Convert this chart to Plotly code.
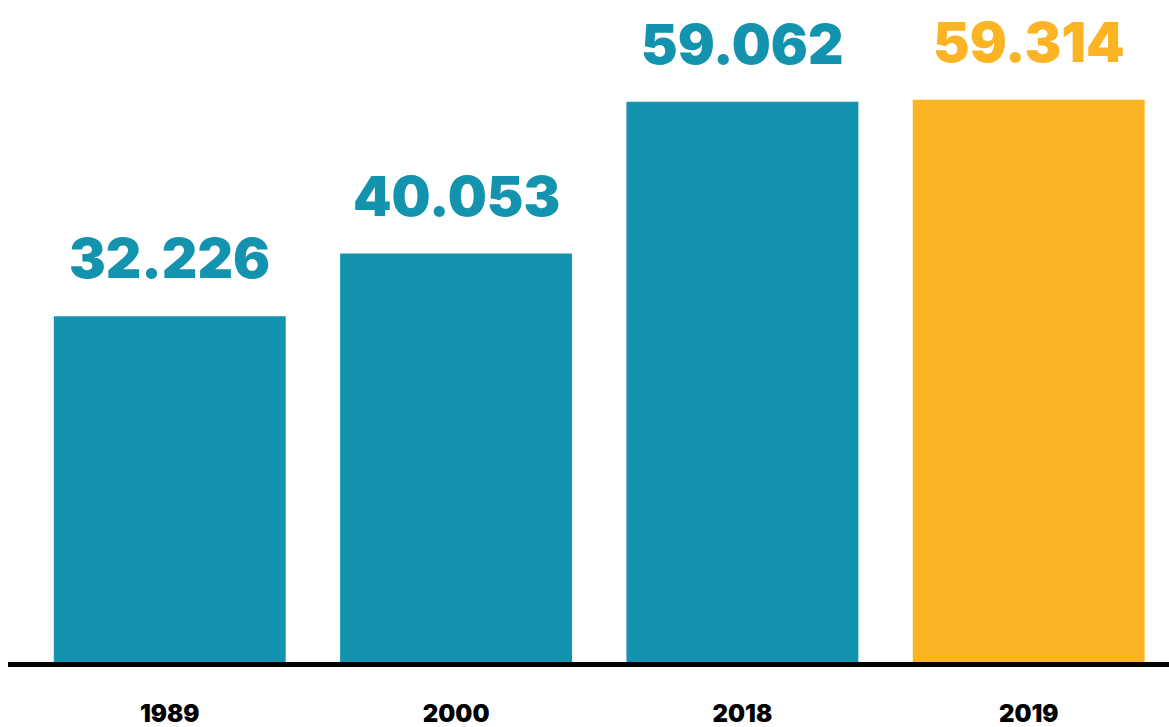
import plotly.graph_objects as go

years = ["1989", "2000", "2018", "2019"]
values = [32.226, 40.053, 59.062, 59.314]
labels = ["32.226", "40.053", "59.062", "59.314"]
colors = ["#1393AD", "#1393AD", "#1393AD", "#FCB424"]

BAR_BASE = -11.06
FONT = "Inter"

fig = go.Figure()
fig.add_trace(go.Bar(
    x=years,
    y=[v - BAR_BASE for v in values],
    base=BAR_BASE,
    marker=dict(color=colors, line=dict(width=0)),
    width=0.81,
    hoverinfo="skip",
))

for i, (v, lab, c) in enumerate(zip(values, labels, colors)):
    fig.add_annotation(
        x=i, y=v, xref="x", yref="y", text=lab, showarrow=False,
        xanchor="center", yanchor="bottom", yshift=23,
        font=dict(family=FONT, size=55, color=c, weight=900),
    )

fig.update_layout(
    width=1169, height=727,
    margin=dict(l=8, r=0, t=0, b=65, autoexpand=False),
    paper_bgcolor="white", plot_bgcolor="white",
    showlegend=False,
    xaxis=dict(
        type="category", range=[-0.565, 3.49],
        showline=True, linecolor="black", linewidth=5,
        showgrid=False, zeroline=False, ticks="",
        automargin=False,
        ticklabelstandoff=26,
        tickfont=dict(family=FONT, size=24, color="black", weight=900),
    ),
    yaxis=dict(
        range=[BAR_BASE, 71.79], visible=False,
        showgrid=False, zeroline=False, automargin=False,
    ),
)

fig.write_html(
    "out.html",
    config={"displayModeBar": False, "staticPlot": True},
    post_script="document.body.style.margin='0';document.body.style.overflow='hidden';",
)
